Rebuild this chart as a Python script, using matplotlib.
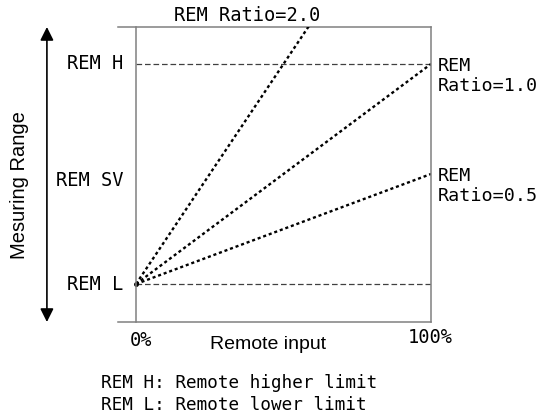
import numpy as np
import matplotlib
matplotlib.use('Agg')
import matplotlib.pyplot as plt

# chart content
ratios = [2.0, 1.0, 0.5]
ratio_labels = ['REM Ratio=2.0', 'REM\nRatio=1.0', 'REM\nRatio=0.5']
level_names = ['REM H', 'REM SV', 'REM L']
level_values = [1.0, 0.47, 0.0]
x_ticks = [0, 100]
x_tick_labels = ['0%', '100%']
notes = ['REM H: Remote higher limit', 'REM L: Remote lower limit']

mono = 'DejaVu Sans Mono'
sans = 'Liberation Sans'
frame = '#808080'

fig = plt.figure(figsize=(5.43, 4.18), dpi=100)
ax = fig.add_axes([136/543, 1 - 322/418, 295/543, 295/418])
ax.set_xlim(0, 100)
ax.set_ylim(-0.1727, 1.168)
ax.set_xticks([])
ax.set_yticks([])
for s in ['top', 'bottom']:
    ax.spines[s].set_visible(False)
for s in ['left', 'right']:
    ax.spines[s].set_color(frame)
    ax.spines[s].set_linewidth(1.1)

# top/bottom frame lines stick out to the left
x0 = -6.1
for yv in ax.get_ylim():
    ax.plot([x0, 100], [yv, yv], color=frame, lw=1.1, clip_on=False)

# REM H / REM L limits
for yv in [level_values[0], level_values[2]]:
    ax.plot([0, 100], [yv, yv], color='#404040', lw=0.9,
            linestyle=(0, (4.5, 2.3)))

# ratio lines
x = np.array([0, 100])
for r in ratios:
    ax.plot(x, r * x / 100, color='black', lw=1.7,
            linestyle=(0, (1.3, 1.2)))
ax.plot([0], [0], 'o', color='black', ms=2.5, clip_on=False)

# ratio labels
ax.text(37.6, 1.22, ratio_labels[0], fontsize=13.5, family=mono,
        ha='center', va='center')
for lab, r in zip(ratio_labels[1:], ratios[1:]):
    ax.text(102.4, r - 0.055, lab, fontsize=13.2, family=mono,
            ha='left', va='center', linespacing=1.2)

# level labels
for name, yv in zip(level_names, level_values):
    ax.text(-4.4, yv, name, fontsize=13.5, family=mono,
            ha='right', va='center')

# measuring range arrow
ylo, yhi = ax.get_ylim()
ax.annotate('', xy=(-30.2, yhi), xytext=(-30.2, ylo),
            arrowprops=dict(arrowstyle='<|-|>', color='black', lw=1.2,
                            mutation_scale=20, shrinkA=0, shrinkB=0),
            annotation_clip=False)
ax.text(-39.5, 0.45, 'Mesuring Range', fontsize=14.5, family=sans,
        rotation=90, ha='center', va='center')

# x labels
ax.text(x_ticks[0] + 1.7, -0.255, x_tick_labels[0], fontsize=13.5,
        family=mono, ha='center', va='center')
ax.text(x_ticks[1] - 0.3, -0.245, x_tick_labels[1], fontsize=13.5,
        family=mono, ha='center', va='center')
ax.text(44.9, -0.277, 'Remote input', fontsize=14, family=sans,
        ha='center', va='center')

fig.text(101/543, 1 - 383/418, notes[0], fontsize=12.7, family=mono,
         ha='left', va='center')
fig.text(101/543, 1 - 405/418, notes[1], fontsize=12.7, family=mono,
         ha='left', va='center')

fig.savefig('out.png', dpi=100, facecolor='white')
